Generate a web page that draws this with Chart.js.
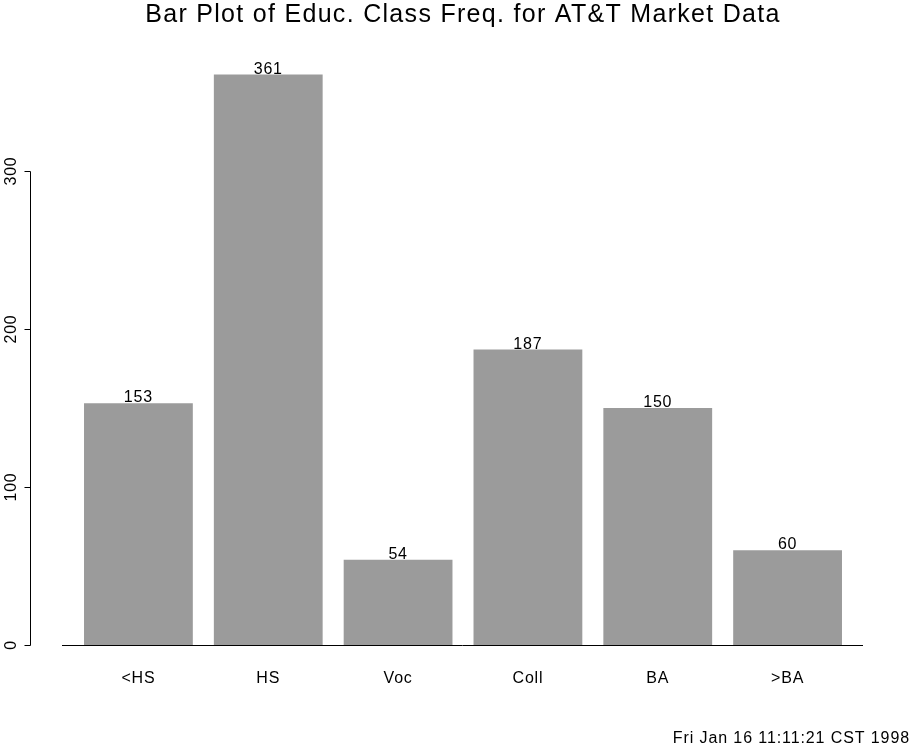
<!DOCTYPE html>
<html>
<head>
<meta charset="utf-8">
<script src="https://cdn.jsdelivr.net/npm/chart.js@4/dist/chart.umd.min.js"></script>
<style>
  html, body { margin: 0; padding: 0; background: white; }
  #box { width: 918px; height: 746px; }
</style>
</head>
<body>
<div id="box"><canvas id="chart" width="918" height="746"></canvas></div>
<script>
// Education classes and their counts
const categories = ["<HS", "HS", "Voc", "Coll", "BA", ">BA"];
const counts = [153, 361, 54, 187, 150, 60];
// Y axis tick labels
const yTicks = [0, 100, 200, 300];

const barGray = "rgb(155,155,155)";
const fontName = "'Liberation Sans', Arial, sans-serif";

// Draw the S-PLUS style axes, labels, title and time stamp
const splusDecor = {
  id: "splusDecor",
  afterDatasetsDraw(chart) {
    const { ctx, scales } = chart;
    const y = scales.y;
    const y0 = y.getPixelForValue(0);
    ctx.save();
    ctx.strokeStyle = "black";
    ctx.lineWidth = 1;
    // baseline under the bars
    ctx.beginPath();
    ctx.moveTo(62, y0 + 0.5);
    ctx.lineTo(863, y0 + 0.5);
    ctx.stroke();
    // left axis, from 0 to the last tick
    const axX = 30.5;
    ctx.beginPath();
    ctx.moveTo(axX, y0 + 0.5);
    ctx.lineTo(axX, Math.round(y.getPixelForValue(yTicks[yTicks.length - 1])) + 0.5);
    yTicks.forEach((t) => {
      const py = Math.round(y.getPixelForValue(t)) + 0.5;
      ctx.moveTo(axX, py);
      ctx.lineTo(axX - 6, py);
    });
    ctx.stroke();
    // rotated tick labels
    ctx.fillStyle = "black";
    ctx.font = "16px " + fontName;
    ctx.letterSpacing = "0.8px";
    ctx.textAlign = "center";
    ctx.textBaseline = "alphabetic";
    yTicks.forEach((t) => {
      ctx.save();
      ctx.translate(16, y.getPixelForValue(t));
      ctx.rotate(-Math.PI / 2);
      ctx.fillText(String(t), 0, 0);
      ctx.restore();
    });
    // category labels and values over bars
    const meta = chart.getDatasetMeta(0);
    meta.data.forEach((bar, i) => {
      ctx.fillText(categories[i], bar.x, 683);
      ctx.fillText(String(counts[i]), bar.x, bar.y - 1);
    });
    // title
    ctx.font = "25px " + fontName;
    ctx.letterSpacing = "1.3px";
    ctx.fillText("Bar Plot of Educ. Class Freq. for AT&T Market Data", 463, 22);
    // time stamp
    ctx.font = "16px " + fontName;
    ctx.letterSpacing = "0.9px";
    ctx.textAlign = "right";
    ctx.fillText("Fri Jan 16 11:11:21 CST 1998", 910, 743);
    ctx.restore();
  },
};

const config = {
  type: "bar",
  data: {
    labels: categories,
    datasets: [
      {
        data: counts,
        backgroundColor: barGray,
        borderWidth: 0,
        barPercentage: 0.838,
        categoryPercentage: 1,
      },
    ],
  },
  options: {
    responsive: false,
    animation: false,
    events: [],
    layout: {
      padding: { left: 73.5, right: 65.5, top: 13, bottom: 101 },
    },
    scales: {
      x: { display: false, offset: true },
      y: { display: false, min: 0, max: 400 },
    },
    plugins: {
      legend: { display: false },
      tooltip: { enabled: false },
      title: { display: false },
    },
  },
  plugins: [splusDecor],
};

new Chart(document.getElementById("chart").getContext("2d"), config);
</script>
</body>
</html>
